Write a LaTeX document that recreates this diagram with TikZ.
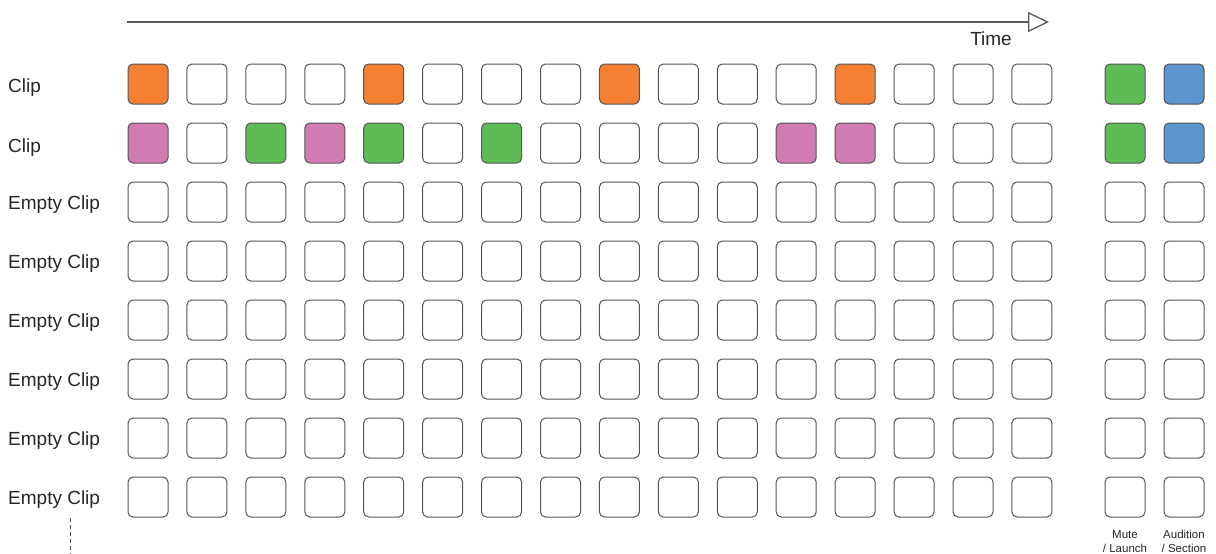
\documentclass[tikz,border=0pt]{standalone}
\usepackage{fontspec}
\setmainfont{Liberation Sans}
\usepackage{tikz}
\usetikzlibrary{arrows.meta,positioning}

\definecolor{cliporange}{HTML}{F58034}
\definecolor{clippink}{HTML}{D17DB4}
\definecolor{clipgreen}{HTML}{5FBB55}
\definecolor{clipblue}{HTML}{5B94CE}
\definecolor{padline}{HTML}{555555}

\tikzset{
  clipbox/.style={draw=padline,line width=1pt,rounded corners=5pt,
                  minimum size=40pt,inner sep=0pt},
  rowlabel/.style={anchor=base west,inner sep=0pt,
                   font=\fontsize{19}{22}\selectfont,text=black!85},
  padlabel/.style={align=center,inner sep=0pt,
                   font=\fontsize{11.5}{14}\selectfont,text=black!85},
  timeline/.style={draw=black!65,line width=1.3pt,
                   -{Triangle[open,length=21pt,width=20pt,line width=1.3pt]}},
}

\begin{document}
\begin{tikzpicture}[x=1pt,y=-1pt]
\useasboundingbox (0,0) rectangle (1216,554);

% time arrow
\coordinate (t0) at (127,22);
\coordinate (t1) at (1049,22);
\draw[timeline] (t0) -- (t1);
\node[rowlabel,anchor=base] (time) at (991,45.5) {Time};

% row labels
\node[rowlabel] (l1) at (8,92.5) {Clip};
\node[rowlabel] (l2) at (8,152) {Clip};
\foreach \r in {3,...,8}
  \node[rowlabel] (l\r) at (8,{84+(\r-1)*59+7.5}) {Empty Clip};

% first two rows
\foreach \col [count=\c] in {cliporange,white,white,white,cliporange,white,white,white,
                             cliporange,white,white,white,cliporange,white,white,white}
  \node[clipbox,fill=\col] (b1-\c) at ({148+(\c-1)*58.93},84) {};
\foreach \col [count=\c] in {clippink,white,clipgreen,clippink,clipgreen,white,clipgreen,white,
                             white,white,white,clippink,clippink,white,white,white}
  \node[clipbox,fill=\col] (b2-\c) at ({148+(\c-1)*58.93},143) {};

% empty rows
\foreach \r in {3,...,8}
  \foreach \c in {1,...,16}
    \node[clipbox] (b\r-\c) at ({148+(\c-1)*58.93},{84+(\r-1)*59}) {};

% mute / audition columns
\node[clipbox,fill=clipgreen] (m1) at (1125,84) {};
\node[clipbox,fill=clipblue] (a1) at (1184,84) {};
\node[clipbox,fill=clipgreen] (m2) at (1125,143) {};
\node[clipbox,fill=clipblue] (a2) at (1184,143) {};
\foreach \r in {3,...,8} {
  \node[clipbox] (m\r) at (1125,{84+(\r-1)*59}) {};
  \node[clipbox] (a\r) at (1184,{84+(\r-1)*59}) {};
}
\node[padlabel,below=12.5pt of m8] (mute) {Mute\\/ Launch};
\node[padlabel,below=12.5pt of a8] (audition) {Audition\\/ Section};

% more rows
\coordinate (d0) at (70,518);
\coordinate (d1) at (70,554);
\draw[black!70,line width=1pt,dash pattern=on 4pt off 3pt] (d0) -- (d1);
\end{tikzpicture}
\end{document}
